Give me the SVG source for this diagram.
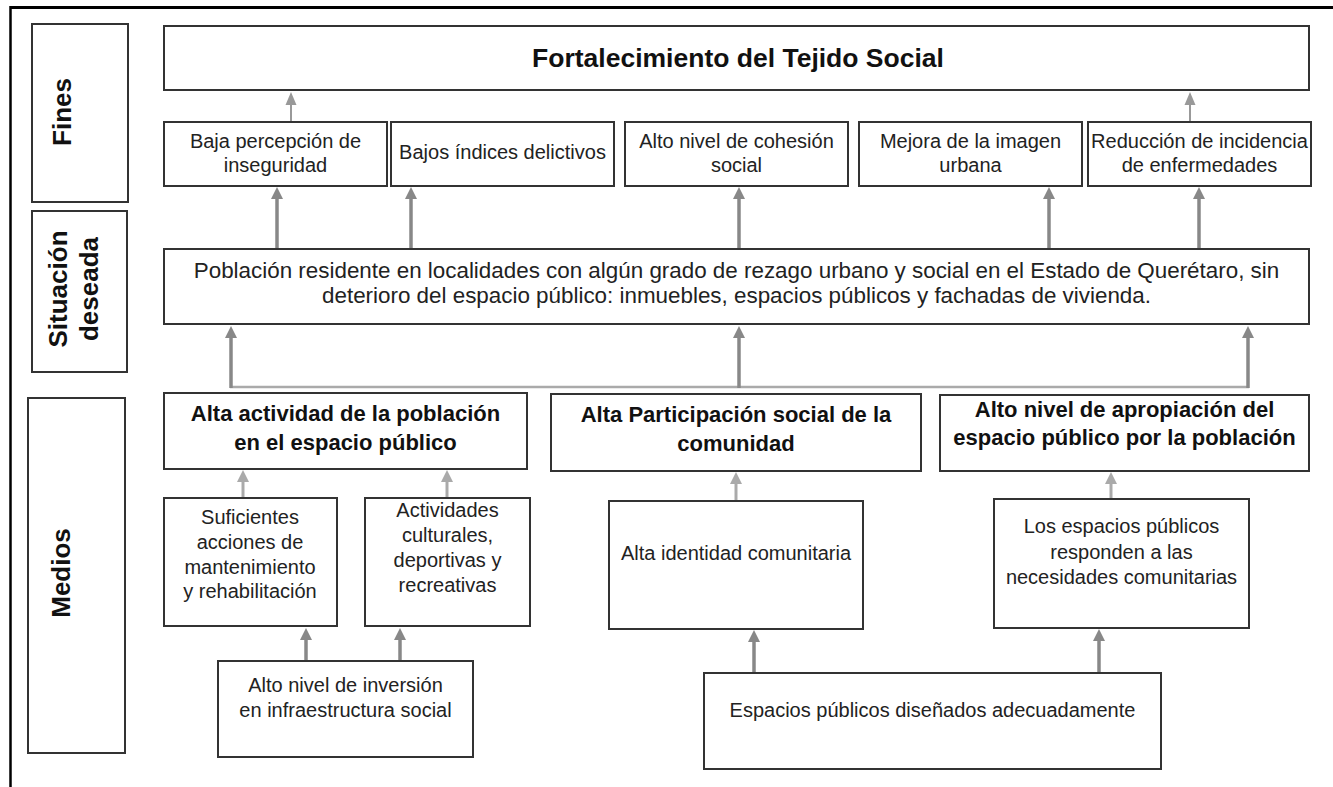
<svg xmlns="http://www.w3.org/2000/svg" width="1333" height="787" viewBox="0 0 1333 787">
<style>
.box{fill:#fff;stroke:#333;stroke-width:2}
.t{font-family:"Liberation Sans",Arial,sans-serif;font-size:20px;fill:#222;text-anchor:middle}
.s{font-size:22.4px}
.b{font-family:"Liberation Sans",Arial,sans-serif;font-weight:bold;font-size:22px;fill:#111;text-anchor:middle}
.lbl{font-family:"Liberation Sans",Arial,sans-serif;font-weight:bold;font-size:26px;fill:#111;text-anchor:middle}
.dk{stroke:#888;stroke-width:3.5;fill:none}
.lt{stroke:#aaa;stroke-width:3;fill:none}
.th{stroke:#999;stroke-width:2;fill:none}
</style>
<defs>
<marker id="ad" markerUnits="userSpaceOnUse" markerWidth="12" markerHeight="12" refX="0" refY="6" orient="auto"><path d="M0,0 L12,6 L0,12 z" fill="#888"/></marker>
<marker id="al" markerUnits="userSpaceOnUse" markerWidth="12" markerHeight="12" refX="0" refY="6" orient="auto"><path d="M0,0 L12,6 L0,12 z" fill="#aaa"/></marker>
<marker id="at" markerUnits="userSpaceOnUse" markerWidth="13" markerHeight="12" refX="0" refY="6" orient="auto"><path d="M0,0.5 L13,6 L0,11.5 z" fill="#999"/></marker>
</defs>
<rect width="1333" height="787" fill="#fff"/>
<g id="page-border" fill="none" stroke="#000">
<line x1="10.5" y1="7.5" x2="1333" y2="7.5" stroke-width="3"/>
<line x1="10.5" y1="6" x2="10.5" y2="787" stroke-width="2.5"/>
</g>
<g id="label-fines"><rect class="box" x="32" y="24" width="96" height="178"/><text class="lbl" transform="translate(71,112) rotate(-90)">Fines</text></g>
<g id="label-situacion"><rect class="box" x="32" y="211" width="95" height="161"/><text class="lbl" transform="translate(67,289) rotate(-90)">Situación</text><text class="lbl" transform="translate(98,289) rotate(-90)">deseada</text></g>
<g id="label-medios"><rect class="box" x="28" y="398" width="97" height="355"/><text class="lbl" transform="translate(70,573) rotate(-90)">Medios</text></g>

<g id="connectors">
<line class="th" x1="291" y1="122" x2="291" y2="105" marker-end="url(#at)"/>
<line class="th" x1="1190" y1="122" x2="1190" y2="105" marker-end="url(#at)"/>
<line class="dk" x1="277" y1="249" x2="277" y2="199" marker-end="url(#ad)"/>
<line class="dk" x1="411" y1="249" x2="411" y2="199" marker-end="url(#ad)"/>
<line class="dk" x1="739" y1="249" x2="739" y2="199" marker-end="url(#ad)"/>
<line class="dk" x1="1049" y1="249" x2="1049" y2="199" marker-end="url(#ad)"/>
<line class="dk" x1="1199" y1="249" x2="1199" y2="199" marker-end="url(#ad)"/>
<line stroke="#aaa" stroke-width="2.5" x1="230" y1="387" x2="1249" y2="387"/>
<line class="dk" x1="231" y1="388" x2="231" y2="338" marker-end="url(#ad)"/>
<line class="dk" x1="739" y1="388" x2="739" y2="338" marker-end="url(#ad)"/>
<line class="dk" x1="1248" y1="388" x2="1248" y2="338" marker-end="url(#ad)"/>
<line class="lt" x1="243" y1="498" x2="243" y2="482" marker-end="url(#al)"/>
<line class="lt" x1="447" y1="498" x2="447" y2="482" marker-end="url(#al)"/>
<line class="lt" x1="736" y1="501" x2="736" y2="484" marker-end="url(#al)"/>
<line class="lt" x1="1111" y1="499" x2="1111" y2="484" marker-end="url(#al)"/>
<line class="dk" x1="306" y1="661" x2="306" y2="640" marker-end="url(#ad)"/>
<line class="dk" x1="400" y1="661" x2="400" y2="640" marker-end="url(#ad)"/>
<line class="dk" x1="754" y1="673" x2="754" y2="642" marker-end="url(#ad)"/>
<line class="dk" x1="1099" y1="673" x2="1099" y2="641" marker-end="url(#ad)"/>
</g>

<g id="fin-principal"><rect class="box" x="164" y="26" width="1145" height="64"/><text class="b" style="font-size:26.5px" x="738" y="67">Fortalecimiento del Tejido Social</text></g>
<g id="fin-1"><rect class="box" x="164" y="122" width="223" height="64"/><text class="t" x="275.5" y="148">Baja percepción de</text><text class="t" x="275.5" y="172">inseguridad</text></g>
<g id="fin-2"><rect class="box" x="391" y="122" width="223" height="64"/><text class="t" x="502.5" y="159">Bajos índices delictivos</text></g>
<g id="fin-3"><rect class="box" x="625" y="122" width="223" height="64"/><text class="t" x="736.5" y="148">Alto nivel de cohesión</text><text class="t" x="736.5" y="172">social</text></g>
<g id="fin-4"><rect class="box" x="859" y="122" width="223" height="64"/><text class="t" x="970.5" y="148">Mejora de la imagen</text><text class="t" x="970.5" y="172">urbana</text></g>
<g id="fin-5"><rect class="box" x="1088" y="122" width="223" height="64"/><text class="t" x="1199.5" y="148">Reducción de incidencia</text><text class="t" x="1199.5" y="172">de enfermedades</text></g>

<g id="situacion"><rect class="box" x="164" y="249" width="1145" height="75"/><text class="t s" x="736.5" y="278">Población residente en localidades con algún grado de rezago urbano y social en el Estado de Querétaro, sin</text><text class="t s" x="736.5" y="303">deterioro del espacio público: inmuebles, espacios públicos y fachadas de vivienda.</text></g>

<g id="medio-1"><rect class="box" x="164" y="393" width="363" height="76"/><text class="b" x="345.5" y="421">Alta actividad de la población</text><text class="b" x="345.5" y="450">en el espacio público</text></g>
<g id="medio-2"><rect class="box" x="551" y="394" width="370" height="77"/><text class="b" x="736" y="422">Alta Participación social de la</text><text class="b" x="736" y="451">comunidad</text></g>
<g id="medio-3"><rect class="box" x="940" y="395" width="369" height="76"/><text class="b" x="1124.5" y="417">Alto nivel de apropiación del</text><text class="b" x="1124.5" y="445">espacio público por la población</text></g>

<g id="medio-1a"><rect class="box" x="164" y="498" width="173" height="128"/><text class="t" x="250" y="524">Suficientes</text><text class="t" x="250" y="549">acciones de</text><text class="t" x="250" y="574">mantenimiento</text><text class="t" x="250" y="598">y rehabilitación</text></g>
<g id="medio-1b"><rect class="box" x="365" y="498" width="165" height="128"/><text class="t" x="447.5" y="517">Actividades</text><text class="t" x="447.5" y="542">culturales,</text><text class="t" x="447.5" y="567">deportivas y</text><text class="t" x="447.5" y="592">recreativas</text></g>
<g id="medio-1c"><rect class="box" x="218" y="661" width="255" height="96"/><text class="t" x="345.5" y="692">Alto nivel de inversión</text><text class="t" x="345.5" y="717">en infraestructura social</text></g>
<g id="medio-2a"><rect class="box" x="609" y="501" width="254" height="128"/><text class="t" x="736" y="560">Alta identidad comunitaria</text></g>
<g id="medio-3a"><rect class="box" x="994" y="499" width="255" height="129"/><text class="t" x="1121.5" y="533">Los espacios públicos</text><text class="t" x="1121.5" y="559">responden a las</text><text class="t" x="1121.5" y="584">necesidades comunitarias</text></g>
<g id="medio-base"><rect class="box" x="704" y="673" width="457" height="96"/><text class="t" x="932.5" y="717">Espacios públicos diseñados adecuadamente</text></g>
</svg>
